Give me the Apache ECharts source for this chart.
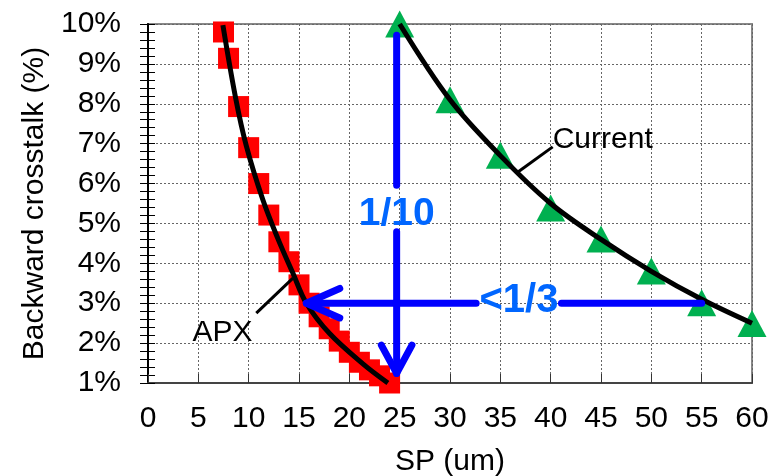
<!DOCTYPE html>
<html>
<head>
<meta charset="utf-8">
<script src="https://cdn.jsdelivr.net/npm/echarts@6/dist/echarts.min.js"></script>
<style>html,body{margin:0;padding:0;background:#fff}#c{width:771px;height:476px}</style>
</head>
<body>
<div id="c"></div>
<script>
// APX measured points (red squares)
const apxX = [7.5, 8, 9, 10, 11, 12, 13, 14, 15, 16, 17, 18, 19, 20, 21, 22, 23, 24];
const apxY = [9.8, 9.14, 7.93, 6.9, 6.0, 5.21, 4.54, 4.04, 3.46, 3.0, 2.66, 2.36, 2.05, 1.77, 1.52, 1.33, 1.18, 1.0];
// APX fitted curve
const apxFitX = [7.44, 8.7, 9.76, 11.4, 12.9, 14.4, 15.73, 18.04, 21.35, 23.83];
const apxFitY = [9.97, 8.15, 6.95, 5.6, 4.62, 3.75, 3.0, 2.24, 1.48, 1.0];
// Current measured points (green triangles)
const curX = [25, 30, 35, 40, 45, 50, 55, 60];
const curY = [10, 8.1, 6.71, 5.39, 4.61, 3.81, 3.01, 2.49];
// Current fitted curve
const curFitX = [25, 30, 35, 40, 45, 50, 55, 60];
const curFitY = [10, 8.1, 6.7, 5.5, 4.6, 3.8, 3.1, 2.5];
// annotation arrows (data coordinates)
const vArrowTop = [[24.7, 9.72], [24.7, 5.96]];
const vArrowBottom = [[24.7, 4.79], [24.7, 1.24]];
const vArrowHead = [[23.18, 1.95], [24.7, 1.24], [26.22, 1.95]];
const hArrowLeft = [[15.73, 3.0], [32.6, 3.0]];
const hArrowRight = [[41.07, 3.0], [55, 3.0]];
const hArrowHead = [[19.05, 3.37], [15.73, 3.0], [19.05, 2.63]];
const currentLeader = [[40.2, 6.92], [36.75, 6.29]];
const apxLeader = [[10.76, 2.75], [14.4, 3.63]];
// texts
const xName = 'SP (um)';
const yName = 'Backward crosstalk (%)';
const annotations = [
  {text: 'Current', pos: [40.2, 7.1], align: 'left', color: '#000', size: 30, weight: 'normal'},
  {text: 'APX', pos: [7.4, 2.27], align: 'center', color: '#000', size: 30, weight: 'normal'},
  {text: '1/10', pos: [24.7, 5.22], align: 'center', color: '#0066ff', size: 39, weight: 'bold'},
  {text: '<1/3', pos: [36.85, 3.05], align: 'center', color: '#0066ff', size: 40, weight: 'bold'}
];

const FONT = '"Liberation Sans", Arial, sans-serif';
const zip = (a, b) => a.map((v, i) => [v, b[i]]);
const blueLine = (data) => ({
  type: 'line', data: data, symbol: 'none', silent: true, z: 5,
  lineStyle: {color: '#0000ff', width: 7, cap: 'round', join: 'round'}
});
const leader = (data) => ({
  type: 'line', data: data, symbol: 'none', silent: true, z: 4,
  lineStyle: {color: '#000', width: 3}
});

const series = [
  {type: 'scatter', data: zip(apxX, apxY), symbol: 'rect', symbolSize: 21,
   itemStyle: {color: '#ff0000', opacity: 1}, z: 2, silent: true},
  {type: 'scatter', data: zip(curX, curY), symbol: 'triangle', symbolSize: [29, 27],
   itemStyle: {color: '#00b050', opacity: 1}, z: 2, silent: true},
  {type: 'line', data: zip(apxFitX, apxFitY), smooth: 0.35, symbol: 'none',
   lineStyle: {color: '#000', width: 5}, z: 3, silent: true},
  {type: 'line', data: zip(curFitX, curFitY), smooth: 0.35, symbol: 'none',
   lineStyle: {color: '#000', width: 5}, z: 3, silent: true},
  blueLine(vArrowTop), blueLine(vArrowBottom), blueLine(vArrowHead),
  blueLine(hArrowLeft), blueLine(hArrowRight), blueLine(hArrowHead),
  leader(currentLeader), leader(apxLeader)
];
annotations.forEach(a => {
  series.push({
    type: 'scatter', data: [a.pos], symbolSize: 0, silent: true, z: 6,
    itemStyle: {opacity: 1},
    label: {show: true, position: [0, 0], formatter: a.text, align: a.align, verticalAlign: 'middle',
      color: a.color, fontSize: a.size, fontWeight: a.weight, fontFamily: FONT, opacity: 1}
  });
});

const chart = echarts.init(document.getElementById('c'), null, {renderer: 'canvas'});
chart.setOption({
  animation: false,
  backgroundColor: '#fff',
  grid: {left: 148, top: 24, width: 604, height: 359, outerBoundsMode: 'none', containLabel: false,
    show: true, borderColor: '#888', borderWidth: 2, backgroundColor: 'transparent'},
  xAxis: {
    type: 'value', min: 0, max: 60, interval: 5,
    name: xName, nameLocation: 'middle', nameGap: 64,
    nameTextStyle: {fontSize: 30, color: '#000', fontFamily: FONT},
    axisLine: {lineStyle: {color: '#444', width: 2}},
    axisTick: {inside: true, length: 9, lineStyle: {color: '#333', width: 1}},
    axisLabel: {fontSize: 30, color: '#000', margin: 21, fontFamily: FONT},
    splitLine: {show: true, lineStyle: {color: '#666', width: 1, type: [2, 2]}}
  },
  yAxis: [{
    type: 'value', min: 1, max: 10, interval: 1,
    name: yName, nameLocation: 'middle', nameGap: 77,
    nameTextStyle: {fontSize: 30, color: '#000', fontFamily: FONT},
    axisLine: {lineStyle: {color: '#000', width: 2}},
    axisTick: {inside: false, length: 8, lineStyle: {color: '#000', width: 1}},
    minorTick: {show: true, splitNumber: 5, length: 8, lineStyle: {color: '#000', width: 1}},
    axisLabel: {fontSize: 30, color: '#000', margin: 27, fontFamily: FONT, formatter: '{value}%'},
    splitLine: {show: true, lineStyle: {color: '#666', width: 1, type: [2, 2]}}
  }, {
    type: 'value', min: 1, max: 10, interval: 1, position: 'left',
    axisLine: {show: false},
    axisTick: {inside: true, length: 7, lineStyle: {color: '#000', width: 1}},
    minorTick: {show: true, splitNumber: 5, length: 7, lineStyle: {color: '#000', width: 1}},
    axisLabel: {show: false},
    splitLine: {show: false}
  }],
  series: series
});
</script>
</body>
</html>
